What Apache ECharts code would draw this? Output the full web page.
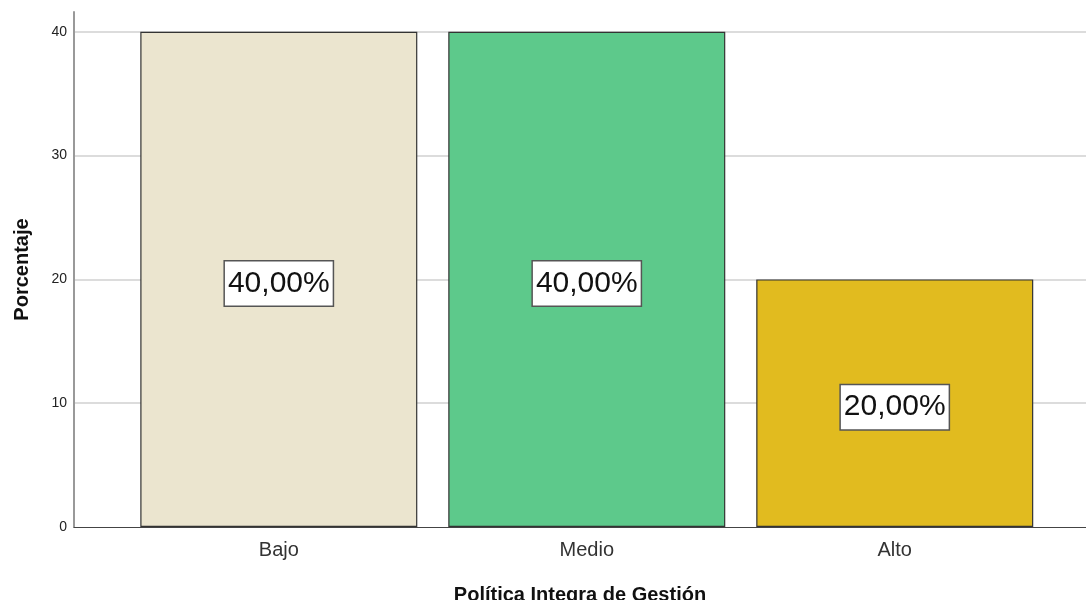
<!DOCTYPE html>
<html>
<head>
<meta charset="utf-8">
<script src="https://cdn.jsdelivr.net/npm/echarts@6/dist/echarts.min.js"></script>
<style>
  html, body { margin: 0; padding: 0; background: #fff; }
  #chart { width: 1086px; height: 600px; }
</style>
</head>
<body>
<div id="chart"></div>
<script>
// datos del gráfico
const categorias = ['Bajo', 'Medio', 'Alto']
const porcentajes = [40, 40, 20]
const colores = ['#ebe5cf', '#5dc98b', '#e1bb1f']
const ticksY = [0, 10, 20, 30, 40]

let myChart = echarts.init(document.getElementById('chart'))

// barras sobre eje de valores para reproducir el margen de SPSS
let seriesData = porcentajes.map((v, i) => ({
  value: [i, v],
  itemStyle: { color: colores[i] }
}))

let option = {
  animation: false,
  grid: { left: 74, right: 0, top: 12, bottom: 73, outerBoundsMode: 'none', containLabel: false },
  xAxis: {
    type: 'value',
    min: -0.665,
    max: 2.621,
    axisLine: { show: true, onZero: false, lineStyle: { color: '#444', width: 1 } },
    axisTick: { show: false },
    splitLine: { show: false },
    axisLabel: {
      customValues: [0, 1, 2],
      formatter: v => categorias[Math.round(v)] || '',
      color: '#333',
      fontSize: 20,
      fontFamily: 'Arial, Liberation Sans',
      margin: 13
    },
    name: 'Política Integra de Gestión',
    nameLocation: 'middle',
    nameGap: 58,
    nameTextStyle: { fontSize: 20, fontWeight: 'bold', color: '#111', fontFamily: 'Arial, Liberation Sans' }
  },
  yAxis: {
    type: 'value',
    min: 0,
    max: 41.6,
    interval: 10,
    axisLine: { show: true, onZero: false, lineStyle: { color: '#999', width: 2 } },
    axisTick: { show: false },
    axisLabel: {
      customValues: ticksY,
      color: '#222',
      fontSize: 14,
      fontFamily: 'Arial, Liberation Sans',
      margin: 7
    },
    splitLine: { show: true, showMaxLine: false, showMinLine: false, lineStyle: { color: '#d0d0d0', width: 1.5 } },
    name: 'Porcentaje',
    nameLocation: 'middle',
    nameGap: 42,
    nameTextStyle: { fontSize: 20, fontWeight: 'bold', color: '#111', fontFamily: 'Arial, Liberation Sans' }
  },
  series: [{
    type: 'bar',
    data: seriesData,
    barWidth: 277,
    itemStyle: { borderColor: '#333', borderWidth: 1.2 },
    label: {
      show: true,
      position: 'inside',
      offset: [0, 4],
      formatter: p => p.value[1].toFixed(2).replace('.', ',') + '%',
      fontSize: 30,
      fontFamily: 'Arial, Liberation Sans',
      color: '#111',
      backgroundColor: '#fff',
      borderColor: '#555',
      borderWidth: 1.5,
      padding: [8, 3, 6, 3]
    }
  }]
}
myChart.setOption(option)
</script>
</body>
</html>
